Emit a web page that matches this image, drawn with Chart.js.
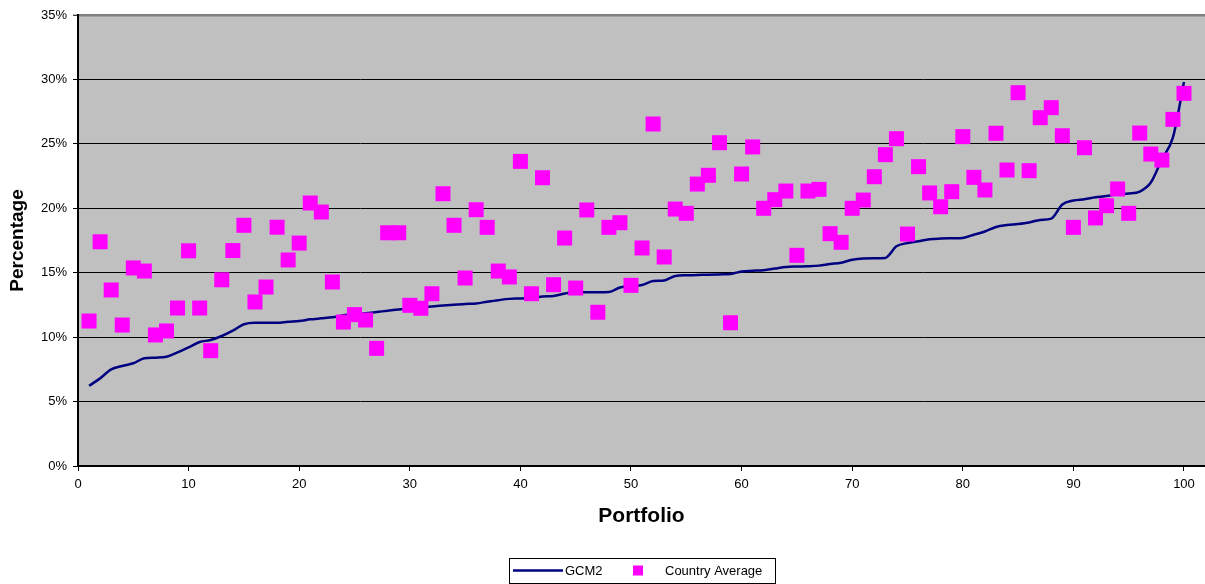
<!DOCTYPE html>
<html>
<head>
<meta charset="utf-8">
<script src="https://cdn.jsdelivr.net/npm/chart.js@4"></script>
<style>
  html, body { margin: 0; padding: 0; background: #ffffff; overflow: hidden; }
  #wrap { width: 1205px; height: 584px; position: relative; }
</style>
</head>
<body>
<div id="wrap"><canvas id="chart" width="1205" height="584"></canvas></div>
<script>
// Portfolio numbers (x categories)
const portfolio = [
  1, 2, 3, 4, 5, 6, 7, 8, 9, 10, 11, 12, 13, 14, 15, 16, 17, 18, 19, 20,
  21, 22, 23, 24, 25, 26, 27, 28, 29, 30, 31, 32, 33, 34, 35, 36, 37, 38, 39, 40,
  41, 42, 43, 44, 45, 46, 47, 48, 49, 50, 51, 52, 53, 54, 55, 56, 57, 58, 59, 60,
  61, 62, 63, 64, 65, 66, 67, 68, 69, 70, 71, 72, 73, 74, 75, 76, 77, 78, 79, 80,
  81, 82, 83, 84, 85, 86, 87, 88, 89, 90, 91, 92, 93, 94, 95, 96, 97, 98, 99, 100
];

// GCM2 (percent)
const gcm2 = [
  6.23, 6.8, 7.5, 7.76, 7.97, 8.36, 8.41, 8.48, 8.82, 9.21,
  9.62, 9.78, 10.09, 10.5, 11.0, 11.12, 11.12, 11.12, 11.2, 11.25,
  11.38, 11.46, 11.54, 11.7, 11.8, 11.85, 11.95, 12.05, 12.15, 12.2,
  12.3, 12.38, 12.45, 12.52, 12.58, 12.62, 12.75, 12.87, 12.97, 13.0,
  13.05, 13.15, 13.2, 13.38, 13.48, 13.48, 13.48, 13.5, 13.85, 13.98,
  14.05, 14.35, 14.4, 14.75, 14.8, 14.82, 14.85, 14.87, 14.9, 15.1,
  15.15, 15.2, 15.32, 15.45, 15.48, 15.5, 15.55, 15.68, 15.78, 16.0,
  16.1, 16.12, 16.15, 17.05, 17.3, 17.45, 17.6, 17.65, 17.67, 17.7,
  17.95, 18.2, 18.55, 18.7, 18.78, 18.9, 19.1, 19.2, 20.3, 20.6,
  20.7, 20.85, 20.95, 21.1, 21.15, 21.3, 22.0, 23.8, 25.5, 29.8
];

// Country Average (percent)
const countryAverage = [
  11.25, 17.4, 13.66, 10.94, 15.37, 15.13, 10.17, 10.48, 12.26, 16.7,
  12.26, 8.95, 14.45, 16.72, 18.68, 12.73, 13.89, 18.53, 15.99, 17.3,
  20.41, 19.71, 14.28, 11.17, 11.75, 11.33, 9.13, 18.1, 18.1, 12.47,
  12.24, 13.37, 21.13, 18.68, 14.59, 19.89, 18.52, 15.13, 14.67, 23.64,
  13.37, 22.37, 14.07, 17.69, 13.81, 19.87, 11.93, 18.52, 18.88, 14.02,
  16.92, 26.54, 16.22, 19.94, 19.61, 21.88, 22.56, 25.09, 11.12, 22.66,
  24.76, 20.0, 20.67, 21.34, 16.35, 21.34, 21.47, 18.03, 17.36, 20.0,
  20.64, 22.45, 24.16, 25.4, 18.0, 23.23, 21.19, 20.12, 21.29, 25.56,
  22.4, 21.42, 25.82, 22.97, 28.97, 22.92, 27.03, 27.81, 25.63, 18.52,
  24.7, 19.25, 20.2, 21.5, 19.61, 25.84, 24.21, 23.74, 26.9, 28.92
];

const seriesNames = ['GCM2', 'Country Average'];
const xTitle = 'Portfolio';
const yTitle = 'Percentage';

const FONT = '"Liberation Sans", Arial, sans-serif';
const NAVY = '#000080';
const MAGENTA = '#FF00FF';

// Silver plot background behind the data
const plotBackground = {
  id: 'plotBackground',
  beforeDraw(chart) {
    const { ctx, chartArea: a } = chart;
    ctx.save();
    ctx.fillStyle = '#C0C0C0';
    ctx.fillRect(a.left, a.top, a.right - a.left, a.bottom - a.top);
    ctx.restore();
  }
};

// Boxed legend centred under the axis title
const boxedLegend = {
  id: 'boxedLegend',
  afterDraw(chart) {
    const ctx = chart.ctx;
    const left = 509, top = 558, w = 266, h = 25;
    ctx.save();
    ctx.fillStyle = '#ffffff';
    ctx.fillRect(left, top, w, h);
    ctx.strokeStyle = '#000000';
    ctx.lineWidth = 1;
    ctx.strokeRect(left + 0.5, top + 0.5, w, h);
    const cy = top + h / 2;
    // line sample
    ctx.strokeStyle = NAVY;
    ctx.lineWidth = 2.5;
    ctx.beginPath();
    ctx.moveTo(513, cy);
    ctx.lineTo(563, cy);
    ctx.stroke();
    ctx.font = '13px ' + FONT;
    ctx.fillStyle = '#000000';
    ctx.textBaseline = 'middle';
    ctx.textAlign = 'left';
    ctx.fillText(chart.data.datasets[0].label, 565, cy + 1);
    // marker sample
    ctx.fillStyle = MAGENTA;
    ctx.fillRect(633, cy - 5, 10, 10);
    ctx.fillStyle = '#000000';
    ctx.fillText(chart.data.datasets[1].label, 665, cy + 1);
    ctx.restore();
  }
};

new Chart(document.getElementById('chart'), {
  type: 'scatter',
  data: {
    datasets: [
      {
        label: seriesNames[0],
        type: 'line',
        data: portfolio.map((p, i) => ({ x: p, y: gcm2[i] })),
        borderColor: NAVY,
        backgroundColor: NAVY,
        borderWidth: 2.5,
        pointRadius: 0,
        cubicInterpolationMode: 'monotone',
        fill: false,
        order: 2
      },
      {
        label: seriesNames[1],
        data: portfolio.map((p, i) => ({ x: p, y: countryAverage[i] })),
        pointStyle: 'rect',
        pointRadius: 10.6,
        pointHoverRadius: 10.6,
        backgroundColor: MAGENTA,
        borderColor: MAGENTA,
        borderWidth: 0,
        order: 1
      }
    ]
  },
  options: {
    responsive: false,
    animation: false,
    layout: { autoPadding: false, padding: { top: 15, right: 0, bottom: 0, left: 0 } },
    plugins: {
      legend: { display: false },
      tooltip: { enabled: false }
    },
    scales: {
      x: {
        type: 'linear',
        min: 0,
        max: 101.9,
        afterFit(scale) {
          scale.height = 118;
          scale.paddingLeft = 0;
          scale.paddingRight = 0;
        },
        ticks: {
          stepSize: 10,
          includeBounds: false,
          color: '#000000',
          font: { family: FONT, size: 13 },
          padding: 6,
          maxRotation: 0
        },
        grid: {
          drawOnChartArea: false,
          drawTicks: true,
          tickLength: 5,
          color: '#000000',
          tickColor: '#000000'
        },
        border: { display: true, color: '#000000', width: 2 },
        title: {
          display: true,
          text: xTitle,
          color: '#000000',
          font: { family: FONT, size: 21, weight: 'bold' },
          padding: { top: 0, bottom: 55 }
        }
      },
      y: {
        min: 0,
        max: 35,
        afterFit(scale) { scale.width = 78; },
        ticks: {
          stepSize: 5,
          color: '#000000',
          font: { family: FONT, size: 13 },
          padding: 6,
          callback: v => v + '%'
        },
        grid: {
          drawTicks: true,
          tickLength: 5,
          color: c => (c.tick && c.tick.value === 35 ? '#808080' : '#000000'),
          lineWidth: c => (c.tick && c.tick.value === 35 ? 2.5 : 1),
          tickColor: '#000000',
          tickWidth: 1
        },
        border: { display: true, color: '#000000', width: 2 },
        title: {
          display: true,
          text: yTitle,
          color: '#000000',
          font: { family: FONT, size: 19, weight: 'bold' },
          padding: { top: 6, bottom: 0 }
        }
      }
    }
  },
  plugins: [plotBackground, boxedLegend]
});
</script>
</body>
</html>
